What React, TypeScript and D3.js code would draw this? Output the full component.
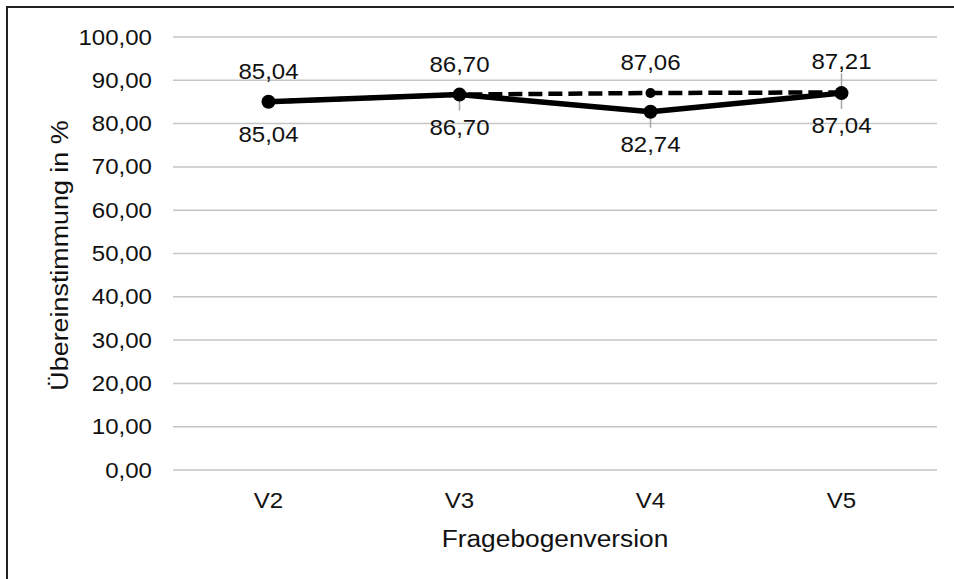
import React, { useEffect } from "react";
import * as d3 from "d3";

// Fragebogenversionen und Übereinstimmung in %
const versions = ["V2", "V3", "V4", "V5"];
const dashedValues = [85.04, 86.7, 87.06, 87.21];
const solidValues = [85.04, 86.7, 82.74, 87.04];
const yTicks = [0, 10, 20, 30, 40, 50, 60, 70, 80, 90, 100];
// which labels were pulled away from their point (Excel leader lines)
const dashedLeader = [false, false, false, true];
const solidLeader = [false, true, true, true];

const W = 954;
const H = 579;
const margin = { top: 37, right: 17, bottom: 109, left: 173 };
const FONT = "'Liberation Sans', Arial, sans-serif";
const FS = 21.5;
const SX = 1.12; // text in the source is a bit stretched horizontally

const fmt = (v: number) => v.toFixed(2).replace(".", ",");

const Label = ({ x, y, text, anchor = "middle", rotate = 0, size = FS }: any) => (
  <text
    transform={`translate(${x},${y}) rotate(${rotate}) scale(${SX},1)`}
    textAnchor={anchor}
    fontFamily={FONT}
    fontSize={size}
    fill="#111"
  >
    {text}
  </text>
);

export default function App() {
  useEffect(() => {
    document.body.style.margin = "0";
  }, []);

  const x = d3
    .scaleBand()
    .domain(versions)
    .range([margin.left, W - margin.right])
    .padding(0);
  const y = d3
    .scaleLinear()
    .domain([0, 100])
    .range([H - margin.bottom, margin.top]);

  const cx = (d: string) => (x(d) as number) + x.bandwidth() / 2;

  const line = d3
    .line<number>()
    .x((d, i) => cx(versions[i]))
    .y((d) => y(d));

  return (
    <svg width={W} height={H} style={{ display: "block" }}>
      <rect x={0} y={0} width={W} height={H} fill="#fff" />
      {/* outer chart frame, cut off at right and bottom */}
      <rect x={7} y={7} width={W + 20} height={H + 20} fill="none" stroke="#222" strokeWidth={2} />

      {/* gridlines */}
      {yTicks.map((t) => (
        <line
          key={t}
          x1={margin.left}
          x2={W - margin.right}
          y1={y(t)}
          y2={y(t)}
          stroke="#c6c6c6"
          strokeWidth={1.5}
        />
      ))}

      {/* y tick labels */}
      {yTicks.map((t) => (
        <Label key={t} x={152} y={y(t) + 7.5} text={fmt(t)} anchor="end" />
      ))}

      {/* x tick labels */}
      {versions.map((v) => (
        <Label key={v} x={cx(v)} y={508} text={v} />
      ))}

      {/* axis titles */}
      <Label x={(margin.left + W - margin.right) / 2} y={547} text="Fragebogenversion" size={23.5} />
      <Label x={68} y={(y(0) + y(100)) / 2 + 2} text="Übereinstimmung in %" rotate={-90} size={24} />

      {/* leader lines */}
      {dashedValues.map((v, i) =>
        dashedLeader[i] ? (
          <line key={"dl" + i} x1={cx(versions[i])} x2={cx(versions[i])} y1={y(v)} y2={y(v) - 19}
            stroke="#a6a6a6" strokeWidth={1.5} />
        ) : null
      )}
      {solidValues.map((v, i) =>
        solidLeader[i] ? (
          <line key={"sl" + i} x1={cx(versions[i])} x2={cx(versions[i])} y1={y(v)} y2={y(v) + 16}
            stroke="#a6a6a6" strokeWidth={1.5} />
        ) : null
      )}

      {/* dashed series */}
      <path d={line(dashedValues) as string} fill="none" stroke="#000" strokeWidth={4.5}
        strokeDasharray="14 6" />
      {dashedValues.map((v, i) => (
        <circle key={"dc" + i} cx={cx(versions[i])} cy={y(v)} r={5} fill="#000" />
      ))}

      {/* solid series */}
      <path d={line(solidValues) as string} fill="none" stroke="#000" strokeWidth={5.5}
        strokeLinejoin="round" />
      {solidValues.map((v, i) => (
        <circle key={"sc" + i} cx={cx(versions[i])} cy={y(v)} r={7} fill="#000" />
      ))}

      {/* data labels */}
      {dashedValues.map((v, i) => (
        <Label key={"dt" + i} x={cx(versions[i])} y={y(v) - 23} text={fmt(v)} />
      ))}
      {solidValues.map((v, i) => (
        <Label key={"st" + i} x={cx(versions[i])} y={y(v) + 40} text={fmt(v)} />
      ))}
    </svg>
  );
}
